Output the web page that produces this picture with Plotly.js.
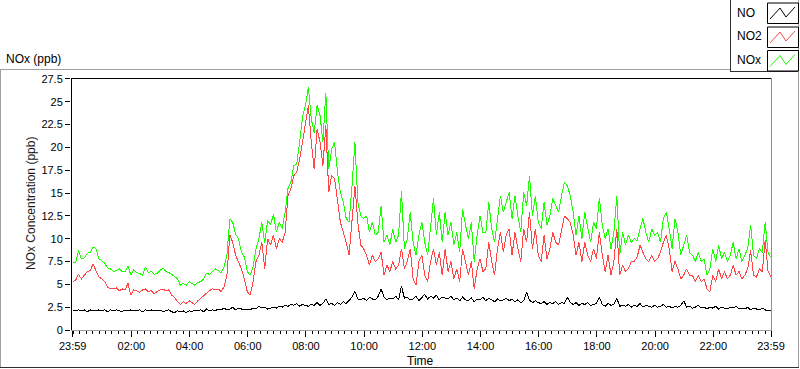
<!DOCTYPE html>
<html>
<head>
<meta charset="utf-8">
<script src="https://cdn.plot.ly/plotly-3.0.1.min.js"></script>
<style>html,body{margin:0;padding:0;background:#fff;}#chart{width:800px;height:369px;}
#chart .scatterlayer path.js-line{shape-rendering:crispEdges;}
</style>
</head>
<body>
<div id="chart"></div>
<script>
// Sample spacing of the readings (hours after 23:59 of the previous day)
const sampleStepHours = 0.1;

// NO (ppb), one reading every 6 minutes from 23:59 to 23:59
const noValues = [
2.2,2.1,2.2,2.1,2.2,2.0,2.2,2.1,2.1,2.2,
2.1,2.2,2.0,2.2,2.1,2.2,2.1,2.0,2.2,2.1,
2.2,2.1,2.1,2.2,2.0,2.2,2.1,2.2,2.1,2.1,
2.2,2.0,2.1,2.2,2.0,1.9,2.1,2.0,2.1,1.9,
2.1,2.0,2.2,2.1,2.2,2.0,2.3,2.1,2.2,2.1,
2.3,2.2,2.4,2.2,2.3,2.5,2.2,2.4,2.3,2.2,
2.3,2.2,2.4,2.3,2.6,2.4,2.5,2.3,2.4,2.5,
2.4,2.6,2.5,2.7,2.6,2.8,2.7,2.9,2.6,2.8,
2.7,2.6,2.8,2.7,3.0,2.7,2.9,3.4,2.8,2.9,
2.7,3.0,2.8,3.1,2.9,3.2,3.6,4.2,3.4,3.3,
3.5,3.2,3.6,3.4,3.3,3.7,4.5,3.6,3.3,3.5,
3.4,3.7,3.3,4.8,3.5,3.6,3.3,3.4,3.7,3.2,
3.6,3.9,3.4,3.7,3.5,3.8,3.3,3.6,3.5,3.4,
3.7,3.3,3.5,3.2,3.6,3.3,3.2,3.5,3.1,3.4,
3.3,3.6,3.2,3.5,3.3,3.1,3.4,3.2,3.3,3.5,
3.2,3.4,3.1,3.3,3.0,3.2,4.1,3.3,3.0,3.2,
3.0,2.9,3.1,2.8,3.0,2.9,3.1,2.8,3.0,2.9,
3.6,3.0,2.8,3.0,2.7,2.9,2.8,3.0,2.7,2.8,
2.9,3.6,2.8,2.6,2.9,2.7,2.8,3.5,2.6,2.7,
2.6,2.8,2.5,2.7,2.6,2.9,2.5,2.7,2.6,2.5,
2.7,2.5,2.6,2.8,2.5,2.6,2.4,2.6,2.5,2.7,
3.2,2.5,2.6,2.4,2.5,2.7,2.4,2.5,2.3,2.5,
2.4,2.6,2.3,2.5,2.4,2.3,2.5,2.4,2.6,2.3,
2.4,2.3,2.5,2.2,2.4,2.3,2.2,2.4,2.2,2.1,
2.1];

// NO2 (ppb)
const no2Values = [
5.3,5.45,6.1,5.6,6.0,6.4,6.5,7.2,6.5,5.8,
5.6,5.3,4.7,4.5,4.5,4.6,4.3,4.5,4.4,5.1,
3.8,4.4,4.3,4.1,4.4,4.5,4.2,4.3,4.0,4.2,
4.4,4.5,4.3,4.4,3.8,3.6,3.1,2.8,3.1,2.9,
3.2,3.0,2.8,3.2,3.5,3.8,4.1,4.3,4.5,4.4,
4.5,4.2,4.7,6.0,10.4,9.6,8.2,7.5,6.7,5.6,
4.2,3.8,5.3,7.5,8.2,9.6,6.7,10.0,9.3,10.4,
8.9,10.0,9.6,10.7,14.7,15.5,16.9,17.3,18.7,20.6,
22.4,24.6,20.6,17.6,22.0,20.6,18.0,22.4,15.1,16.9,
16.6,14.0,11.8,10.7,9.6,8.2,12.5,15.8,11.8,9.3,
8.9,8.2,7.1,8.2,7.5,7.8,8.5,6.0,7.1,6.4,
7.5,6.7,7.1,8.9,6.7,7.5,8.9,5.6,4.9,7.5,
8.2,6.0,5.3,7.5,8.9,7.1,8.5,6.0,8.9,6.4,
7.5,5.6,6.7,5.3,8.9,7.5,6.0,7.5,4.5,6.7,
7.8,6.4,6.7,9.6,7.5,6.0,8.9,10.7,8.5,10.4,
11.1,8.2,10.7,8.9,7.5,11.1,9.6,12.9,8.9,11.1,
8.2,7.5,10.4,7.8,8.9,10.7,9.6,9.3,11.1,12.5,
12.2,11.8,10.4,8.2,9.6,7.5,9.6,8.2,7.5,8.9,
7.8,10.7,8.2,6.4,8.2,6.0,7.5,11.1,6.0,7.1,
6.4,6.7,7.5,7.5,8.0,9.3,8.5,7.8,7.5,8.2,
7.5,7.8,8.5,9.6,10.4,8.9,6.4,7.5,6.7,5.6,
6.0,6.7,6.0,6.0,5.3,6.0,5.3,5.6,4.5,4.2,
6.0,5.3,6.7,5.6,6.4,5.6,6.0,7.1,6.0,6.4,
5.6,6.0,6.7,8.7,6.0,5.8,6.7,6.4,9.8,6.4,
5.8];

// NOx (ppb)
const noxValues = [
7.35,7.4,8.7,7.8,7.9,8.4,8.5,9.1,8.9,7.8,
7.6,7.3,6.8,6.7,6.4,6.5,6.7,6.4,6.4,7.0,
6.0,6.6,6.3,6.2,6.0,6.9,6.3,6.4,6.1,6.2,
6.5,6.8,6.4,6.3,6.1,5.8,5.6,4.9,5.1,4.9,
5.3,5.1,4.9,5.2,5.3,5.6,6.2,6.1,6.4,6.7,
6.5,6.3,6.9,8.2,12.2,11.8,10.5,10.0,8.5,8.0,
6.4,6.0,6.9,8.9,10.0,11.8,9.5,12.0,11.5,12.7,
10.7,11.8,11.1,12.9,15.5,16.2,18.0,18.2,20.6,23.3,
24.6,26.6,23.1,21.6,24.6,23.5,20.6,26.0,17.6,19.8,
20.6,17.3,15.1,14.0,12.2,11.8,15.8,20.6,14.0,12.5,
12.2,12.5,10.7,11.8,10.4,10.7,13.6,9.6,10.4,9.3,
11.1,9.6,10.4,15.2,8.9,10.0,12.9,9.6,8.2,10.4,
11.8,9.6,8.2,11.1,14.4,10.4,12.9,9.6,12.9,10.4,
11.8,9.3,10.7,8.5,13.3,11.5,10.0,11.8,7.5,10.4,
12.5,10.7,10.7,14.0,11.1,9.6,12.5,14.7,12.9,14.0,
15.1,12.2,14.7,12.5,10.7,15.1,13.6,16.9,12.5,14.7,
11.8,11.1,14.0,11.5,12.5,14.4,13.6,12.9,14.7,16.2,
15.8,14.7,12.9,10.4,12.5,10.0,12.9,11.1,9.6,11.8,
11.1,14.5,11.5,10.0,11.1,8.9,10.7,14.7,8.2,10.7,
9.3,10.4,9.6,10.0,9.8,11.1,12.2,10.7,9.6,11.1,
10.4,10.7,9.6,12.2,12.9,11.1,8.9,12.2,10.7,8.2,
9.3,10.4,8.5,8.2,7.5,8.5,7.5,7.8,6.0,6.7,
8.9,7.5,9.3,7.8,8.5,7.5,8.2,9.6,7.8,8.9,
7.5,8.2,8.9,11.5,8.2,7.8,8.9,8.5,11.8,8.4,
8.0];

const seriesNames = ["NO", "NO2", "NOx"];
const seriesColors = ["#000000", "#ff4545", "#1cff00"];
const xTickVals = [0, 2.0167, 4.0167, 6.0167, 8.0167, 10.0167, 12.0167, 14.0167, 16.0167, 18.0167, 20.0167, 22.0167, 24];
const xTickText = ["23:59", "02:00", "04:00", "06:00", "08:00", "10:00", "12:00", "14:00", "16:00", "18:00", "20:00", "22:00", "23:59"];

const hours = noValues.map((_, i) => +(i * sampleStepHours).toFixed(2));

// pixel -> paper helpers (plot area: x 71..772, y 78..330)
const L = 71, R = 772, T = 78, B = 330;
const PX = p => (p - L) / (R - L);
const PY = p => (B - p) / (B - T);

const FONT = "Liberation Sans, Arial, sans-serif";

const traces = [noValues, no2Values, noxValues].map((vals, i) => ({
  x: hours, y: vals, type: "scatter", mode: "lines",
  name: seriesNames[i],
  line: {color: seriesColors[i], width: 1},
  hoverinfo: "skip"
}));
// draw NOx under NO2 under NO
traces.reverse();

function hline(x0, x1, y, color) {
  return {type: "line", xref: "paper", yref: "paper", x0: PX(x0), x1: PX(x1), y0: PY(y), y1: PY(y), line: {color: color, width: 1}, layer: "above"};
}
function vline(x, y0, y1, color) {
  return {type: "line", xref: "paper", yref: "paper", x0: PX(x), x1: PX(x), y0: PY(y0), y1: PY(y1), line: {color: color, width: 1}, layer: "above"};
}

const shapes = [
  // outer frame
  hline(0, 730, 69.5, "#a0a0a0"),
  vline(0.5, 69, 368, "#a0a0a0"),
  vline(798.5, 71, 368, "#a0a0a0"),
  hline(0, 799, 367.5, "#303030"),
  // legend frame
  vline(730.5, 0, 72, "#303030"),
  hline(730, 799, 71.5, "#303030"),
  vline(798.5, 0, 72, "#a0a0a0"),
  // plot area frame
  vline(71.5, 78, 330, "#000000"),
  hline(71, 772, 78.5, "#000000"),
  vline(771.5, 78, 331, "#909090"),
  hline(71, 772, 330.5, "#a0a0a0")
];

const swatchTops = [3, 27, 50.5];
swatchTops.forEach((top, i) => {
  shapes.push({type: "rect", xref: "paper", yref: "paper",
    x0: PX(767.5), x1: PX(798.5), y0: PY(top), y1: PY(top + 20.5),
    line: {color: "#000", width: 1}, fillcolor: "#fff", layer: "above"});
  const d = top - 3;
  const pts = [[770, 19 + d], [780, 8 + d], [786, 17 + d], [795, 7 + d]];
  const path = "M " + pts.map(p => PX(p[0]) + "," + PY(p[1])).join(" L ");
  shapes.push({type: "path", xref: "paper", yref: "paper", path: path,
    line: {color: seriesColors[i], width: 1}, layer: "above"});
});

const annotations = [
  {text: "NOx (ppb)", x: PX(4), y: PY(59), xref: "paper", yref: "paper", xanchor: "left", yanchor: "middle", showarrow: false, font: {family: FONT, size: 12, color: "#000"}},
  {text: "NOx Concentration (ppb)", x: PX(31), y: PY(204), xref: "paper", yref: "paper", xanchor: "center", yanchor: "middle", textangle: -90, showarrow: false, font: {family: FONT, size: 12, color: "#1a1a1a"}},
  {text: "Time", x: PX(420), y: PY(361), xref: "paper", yref: "paper", xanchor: "center", yanchor: "middle", showarrow: false, font: {family: FONT, size: 12, color: "#000"}}
];
[13, 36.5, 60].forEach((yc, i) => {
  annotations.push({text: seriesNames[i], x: PX(735), y: PY(yc), xref: "paper", yref: "paper", xanchor: "left", yanchor: "middle", showarrow: false, font: {family: FONT, size: 12, color: "#000"}});
});

const layout = {
  width: 800, height: 369, autosize: false,
  margin: {l: L, r: 800 - R, t: T, b: 369 - B, pad: 0},
  paper_bgcolor: "#fff", plot_bgcolor: "#fff",
  showlegend: false,
  font: {family: FONT, size: 11, color: "#000"},
  xaxis: {
    range: [-0.058, 24.034], tickmode: "array", tickvals: xTickVals, ticktext: xTickText,
    ticks: "outside", ticklen: 6, tickwidth: 1, tickcolor: "#000",
    showgrid: false, zeroline: false, showline: false,
    tickfont: {family: FONT, size: 11, color: "#000"},
    minor: {tickmode: "linear", tick0: 0.0167, dtick: 2 / 9, ticks: "outside", ticklen: 3, tickcolor: "#000", tickwidth: 1, showgrid: false}
  },
  yaxis: {
    range: [0, 27.6], tickmode: "linear", tick0: 0, dtick: 2.5,
    ticks: "outside", ticklen: 5, tickwidth: 1, tickcolor: "#000",
    showgrid: false, zeroline: false, showline: false,
    tickfont: {family: FONT, size: 11, color: "#000"}
  },
  shapes: shapes,
  annotations: annotations
};

Plotly.newPlot("chart", traces, layout, {staticPlot: true, displayModeBar: false});
</script>
</body>
</html>
